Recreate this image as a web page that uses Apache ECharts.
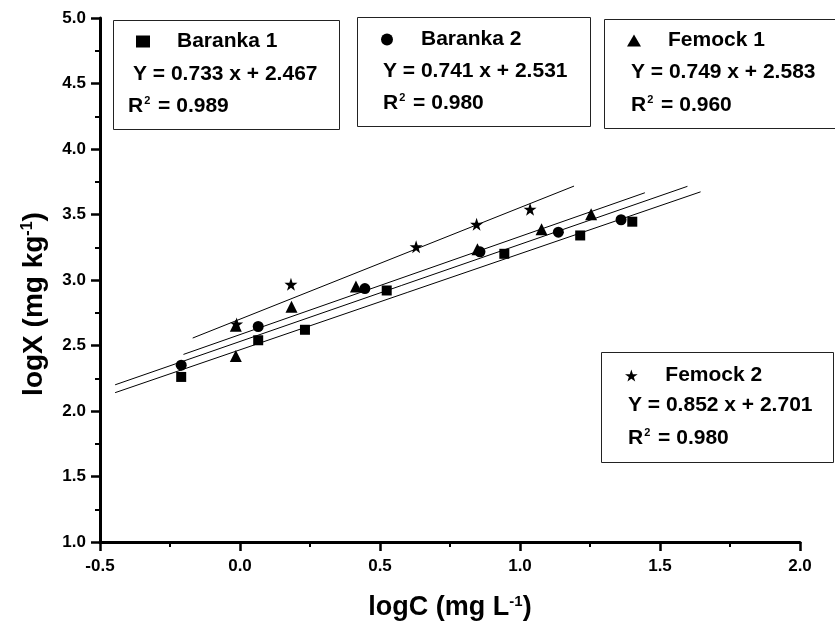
<!DOCTYPE html>
<html>
<head>
<meta charset="utf-8">
<script src="https://cdn.jsdelivr.net/npm/echarts@6/dist/echarts.min.js"></script>
<style>
html,body{margin:0;padding:0;background:#fff;}
#chart{width:835px;height:633px;}
</style>
</head>
<body>
<div id="chart"></div>
<script>
// ---- data ----
var seriesNames = ['Baranka 1', 'Baranka 2', 'Femock 1', 'Femock 2'];
var baranka1 = [[-0.21, 2.26], [0.065, 2.54], [0.232, 2.62], [0.524, 2.92], [0.944, 3.20], [1.215, 3.34], [1.401, 3.445]];
var baranka2 = [[-0.21, 2.35], [0.065, 2.645], [0.446, 2.935], [0.857, 3.215], [1.137, 3.365], [1.361, 3.46]];
var femock1 = [[-0.015, 2.42], [-0.015, 2.65], [0.184, 2.795], [0.414, 2.95], [0.848, 3.234], [1.077, 3.388], [1.254, 3.502]];
var femock2 = [[-0.012, 2.665], [0.182, 2.967], [0.629, 3.254], [0.845, 3.425], [1.036, 3.54]];
// fitted lines (end points)
var fitB1 = [[-0.446, 2.140], [1.645, 3.673]];
var fitB2 = [[-0.446, 2.200], [1.598, 3.715]];
var fitF1 = [[-0.202, 2.432], [1.446, 3.666]];
var fitF2 = [[-0.169, 2.557], [1.193, 3.717]];
var equations = ['Y = 0.733 x + 2.467', 'Y = 0.741 x + 2.531', 'Y = 0.749 x + 2.583', 'Y = 0.852 x + 2.701'];
var r2Values = ['0.989', '0.980', '0.960', '0.980'];
var xTitle = ['logC (mg L', '-1', ')'];
var yTitle = ['logX (mg kg', '-1', ')'];

// ---- styling ----
var FONT = 'Liberation Sans, Arial, Helvetica, sans-serif';
var STAR = 'path://M50,0 L61.8,35.1 L98.1,35.1 L68.8,56.7 L79.4,91 L50,70 L20.6,91 L31.2,56.7 L1.9,35.1 L38.2,35.1 Z';
var symbols = ['rect', 'circle', 'triangle', STAR];
var symSizes = [10, 11, 12, 13];
var scatterData = [baranka1, baranka2, femock1, femock2];
var fits = [fitB1, fitB2, fitF1, fitF2];

var chart = echarts.init(document.getElementById('chart'), null, {renderer: 'canvas'});

var series = [];
fits.forEach(function (f, i) {
  series.push({
    name: 'fit' + i, type: 'line', data: f, showSymbol: false, silent: true,
    lineStyle: {color: '#000', width: 1}, z: 2
  });
});
scatterData.forEach(function (d, i) {
  series.push({
    name: seriesNames[i], type: 'scatter', data: d,
    symbol: symbols[i], symbolSize: symSizes[i],
    itemStyle: {color: '#000', opacity: 1}, z: 3 + (i === 3 ? 1 : 0)
  });
});

// boxes: [x, y, w, h], legend icon centre, text positions
var boxes = [
  {rect: [113, 20, 226, 109], icon: [143, 43], eq: [133, 74], r2: [128, 106]},
  {rect: [357, 17, 233, 109], icon: [388, 41], eq: [383, 71], r2: [383, 103]},
  {rect: [604, 19, 232, 109], icon: [634, 42], eq: [631, 72], r2: [631, 105]},
  {rect: [601, 352, 232, 110], icon: [632, 377], eq: [628, 405], r2: [628, 438]}
];

var legends = boxes.map(function (b, i) {
  return {
    data: [seriesNames[i]],
    left: b.icon[0] - 7, top: b.icon[1] - 12,
    padding: 0, itemWidth: 14, itemHeight: 12,
    selectedMode: false,
    itemStyle: {opacity: 1},
    textStyle: {fontFamily: FONT, fontWeight: 'bold', fontSize: 21, color: '#000', padding: [0, 0, 0, 22]}
  };
});

var graphics = [];
boxes.forEach(function (b, i) {
  graphics.push({
    type: 'rect', z: 0, silent: true,
    shape: {x: b.rect[0] + 0.5, y: b.rect[1] + 0.5, width: b.rect[2], height: b.rect[3]},
    style: {fill: '#fff', stroke: '#222', lineWidth: 1}
  });
  graphics.push({
    type: 'text', z: 1, x: b.eq[0], y: b.eq[1], silent: true,
    style: {text: equations[i], font: 'bold 21px ' + FONT, fill: '#000', verticalAlign: 'middle', textVerticalAlign: 'middle'}
  });
  graphics.push({
    type: 'text', z: 1, x: b.r2[0], y: b.r2[1], silent: true,
    style: {
      text: '{a|R}{s|2}{a| = ' + r2Values[i] + '}',
      verticalAlign: 'middle', textVerticalAlign: 'middle',
      rich: {
        a: {fontFamily: FONT, fontWeight: 'bold', fontSize: 21, fill: '#000', color: '#000'},
        s: {fontFamily: FONT, fontWeight: 'bold', fontSize: 11, fill: '#000', color: '#000', verticalAlign: 'top', padding: [0, 2, 0, 1]}
      }
    }
  });
});

var titleRich = {
  a: {fontFamily: FONT, fontWeight: 'bold', fontSize: 27, color: '#000'},
  s: {fontFamily: FONT, fontWeight: 'bold', fontSize: 15, color: '#000', verticalAlign: 'top'}
};
var yTitleRich = {
  a: {fontFamily: FONT, fontWeight: 'bold', fontSize: 28, color: '#000'},
  s: {fontFamily: FONT, fontWeight: 'bold', fontSize: 16, color: '#000', verticalAlign: 'top'}
};

var option = {
  backgroundColor: '#fff',
  animation: false,
  grid: {left: 100, right: 35, top: 18, bottom: 91, outerBoundsMode: 'none'},
  legend: legends,
  graphic: graphics,
  xAxis: {
    type: 'value', min: -0.5, max: 2.0, interval: 0.5,
    name: '{a|' + xTitle[0] + '}{s|' + xTitle[1] + '}{a|' + xTitle[2] + '}',
    nameLocation: 'middle', nameGap: 52,
    nameTextStyle: {rich: titleRich},
    axisLine: {show: true, onZero: false, lineStyle: {color: '#000', width: 3}},
    axisTick: {show: true, length: 9, lineStyle: {color: '#000', width: 2.5}},
    minorTick: {show: true, splitNumber: 2, length: 5, lineStyle: {color: '#000', width: 2}},
    splitLine: {show: false},
    axisLabel: {fontFamily: FONT, fontWeight: 'bold', fontSize: 17, color: '#000', margin: 16,
      formatter: function (v) { return v.toFixed(1); }}
  },
  yAxis: {
    type: 'value', min: 1.0, max: 5.0, interval: 0.5,
    name: '{a|' + yTitle[0] + '}{s|' + yTitle[1] + '}{a|' + yTitle[2] + '}',
    nameLocation: 'middle', nameGap: 52,
    nameTextStyle: {rich: yTitleRich, padding: [0, 48, 0, 0]},
    axisLine: {show: true, onZero: false, lineStyle: {color: '#000', width: 3}},
    axisTick: {show: true, length: 9, lineStyle: {color: '#000', width: 2.5}},
    minorTick: {show: true, splitNumber: 2, length: 5, lineStyle: {color: '#000', width: 2}},
    splitLine: {show: false},
    axisLabel: {fontFamily: FONT, fontWeight: 'bold', fontSize: 17, color: '#000', margin: 14,
      formatter: function (v) { return v.toFixed(1); }}
  },
  series: series
};
chart.setOption(option);
</script>
</body>
</html>
